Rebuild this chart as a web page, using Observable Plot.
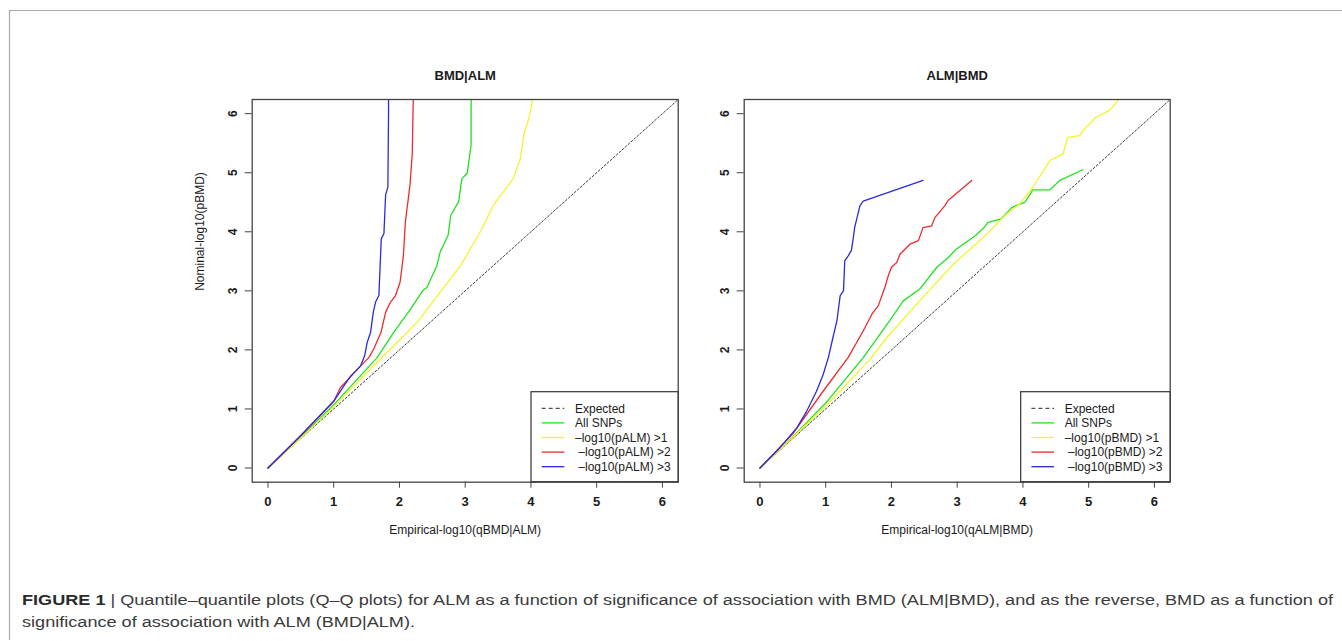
<!DOCTYPE html>
<html>
<head>
<meta charset="utf-8">
<script src="https://cdn.jsdelivr.net/npm/d3@7"></script>
<script src="https://cdn.jsdelivr.net/npm/@observablehq/plot@0.6"></script>
<style>
  html, body { margin: 0; padding: 0; background: #fff; }
  #page { position: relative; width: 1342px; height: 641px; overflow: hidden; font-family: 'Liberation Sans', Arial, sans-serif; }
  .abs { position: absolute; }
  #caption div { position: absolute; left: 22px; white-space: nowrap; font-size: 15.5px; color: #3a3a3a; transform-origin: 0 50%; }
</style>
</head>
<body>
<div id="page">
  <svg class="abs" style="left:0;top:0" width="1342" height="641" id="border"></svg>
  <div class="abs" id="left" style="left:180px;top:50px"></div>
  <div class="abs" id="right" style="left:672px;top:50px"></div>
  <svg class="abs" style="left:0;top:0;pointer-events:none" width="1342" height="641" id="legend"></svg>
  <div id="caption"></div>
</div>
<script>
// ---------- data ----------
const axisTicks = [0, 1, 2, 3, 4, 5, 6];
const expectedX = [0, 7];
const expectedY = [0, 7];

// BMD|ALM panel
const leftAllX = [0, 0.5, 1, 1.66, 1.915, 2.17, 2.35, 2.42, 2.57, 2.62, 2.74, 2.78, 2.90, 2.95, 3.03, 3.09, 3.09];
const leftAllY = [0, 0.52, 1.07, 1.87, 2.30, 2.69, 3.00, 3.06, 3.43, 3.66, 3.94, 4.28, 4.51, 4.90, 4.99, 5.47, 6.3];
const leftP1X = [0, 0.5, 1, 1.71, 1.915, 2.27, 2.62, 2.93, 3.23, 3.43, 3.54, 3.64, 3.73, 3.84, 3.89, 3.97, 4.03, 4.04];
const leftP1Y = [0, 0.51, 1.04, 1.85, 2.07, 2.47, 2.98, 3.43, 4.00, 4.45, 4.62, 4.76, 4.90, 5.24, 5.64, 5.92, 6.26, 6.3];
const leftP2X = [0, 0.5, 1, 1.1, 1.41, 1.535, 1.61, 1.72, 1.79, 1.865, 1.94, 2.01, 2.06, 2.09, 2.16, 2.195, 2.21, 2.21];
const leftP2Y = [0, 0.55, 1.13, 1.36, 1.73, 1.87, 2.02, 2.30, 2.64, 2.81, 2.92, 3.15, 3.60, 4.17, 4.79, 5.33, 6.26, 6.3];
const leftP3X = [0, 0.5, 1, 1.16, 1.26, 1.41, 1.47, 1.51, 1.561, 1.602, 1.637, 1.687, 1.723, 1.764, 1.789, 1.824, 1.834, 1.834];
const leftP3Y = [0, 0.55, 1.13, 1.40, 1.56, 1.73, 1.90, 2.13, 2.30, 2.64, 2.81, 2.92, 3.88, 3.97, 4.62, 4.76, 6.03, 6.3];

// ALM|BMD panel
const rightAllX = [0, 0.5, 1, 1.57, 1.93, 2.18, 2.43, 2.69, 2.86, 2.99, 3.09, 3.27, 3.39, 3.47, 3.67, 3.83, 3.95, 4.03, 4.15, 4.41, 4.56, 4.91];
const rightAllY = [0, 0.53, 1.1, 1.87, 2.43, 2.83, 3.03, 3.40, 3.56, 3.71, 3.79, 3.93, 4.05, 4.16, 4.22, 4.41, 4.47, 4.50, 4.71, 4.71, 4.87, 5.05];
const rightP1X = [0, 0.5, 1, 1.65, 1.93, 2.43, 2.94, 3.45, 3.75, 3.95, 4.15, 4.41, 4.61, 4.68, 4.86, 4.96, 5.11, 5.32, 5.47];
const rightP1Y = [0, 0.52, 1.05, 1.81, 2.21, 2.83, 3.45, 3.96, 4.30, 4.47, 4.75, 5.21, 5.32, 5.60, 5.63, 5.77, 5.94, 6.06, 6.26];
const rightP2X = [0, 0.5, 0.96, 1.34, 1.57, 1.70, 1.80, 1.90, 1.95, 2.00, 2.08, 2.13, 2.28, 2.41, 2.48, 2.61, 2.66, 2.81, 2.86, 3.22];
const rightP2Y = [0, 0.58, 1.30, 1.87, 2.32, 2.60, 2.75, 3.06, 3.25, 3.40, 3.48, 3.62, 3.79, 3.85, 4.07, 4.10, 4.24, 4.44, 4.53, 4.87];
const rightP3X = [0, 0.3, 0.56, 0.71, 0.86, 0.96, 1.04, 1.11, 1.17, 1.22, 1.27, 1.29, 1.34, 1.39, 1.42, 1.44, 1.52, 1.57, 2.48];
const rightP3Y = [0, 0.34, 0.68, 0.96, 1.30, 1.58, 1.87, 2.21, 2.49, 2.92, 3.00, 3.51, 3.59, 3.68, 3.90, 4.07, 4.44, 4.52, 4.87];

const seriesColors = ["#22e022", "#f4f42c", "#ee2a2a", "#2a2ae0"];
const leftLegend = ["Expected", "All SNPs", "\u2013log10(pALM) >1", " \u2013log10(pALM) >2", " \u2013log10(pALM) >3"];
const rightLegend = ["Expected", "All SNPs", "\u2013log10(pBMD) >1", " \u2013log10(pBMD) >2", " \u2013log10(pBMD) >3"];
const titles = ["BMD|ALM", "ALM|BMD"];
const xLabels = ["Empirical-log10(qBMD|ALM)", "Empirical-log10(qALM|BMD)"];
const yLabel = "Nominal-log10(pBMD)";
const captionBold = "FIGURE 1";
const captionLine1 = " | Quantile\u2013quantile plots (Q\u2013Q plots) for ALM as a function of significance of association with BMD (ALM|BMD), and as the reverse, BMD as a function of";
const captionLine2 = "significance of association with ALM (BMD|ALM).";

// ---------- build ----------
const zip = (xs, ys) => xs.map((x, i) => ({x, y: ys[i]}));

function panel(seriesXY, title, xlabel, ylabel) {
  const marks = [
    Plot.line(zip(expectedX, expectedY), {x: "x", y: "y", stroke: "#222", strokeWidth: 0.9, strokeDasharray: "2,2", clip: true}),
    ...seriesXY.map(([xs, ys], i) => Plot.line(zip(xs, ys), {x: "x", y: "y", stroke: seriesColors[i], strokeWidth: 1.3, clip: true})),
    Plot.frame({stroke: "#444", strokeWidth: 1.3}),
    Plot.axisX({ticks: axisTicks, tickSize: 6, tickPadding: 9, fontSize: 13, fontWeight: "bold", label: null, stroke: "#444", tickFormat: d => d}),
    Plot.axisY({ticks: axisTicks, tickSize: 7, tickPadding: 8, tickRotate: -90, fontSize: 12, fontWeight: "bold", label: null, stroke: "#444", tickFormat: d => d}),
    Plot.text([title], {text: d => d, frameAnchor: "top", dy: -29, fontWeight: "bold", fontSize: 13}),
    Plot.text([xlabel], {text: d => d, frameAnchor: "bottom", dy: 52, fontSize: 12})
  ];
  if (ylabel) marks.push(Plot.text([ylabel], {text: d => d, frameAnchor: "left", dx: -52, rotate: -90, fontSize: 12}));
  return Plot.plot({
    width: 520, height: 500,
    marginLeft: 71.7, marginRight: 22.3, marginTop: 49, marginBottom: 68.3,
    x: {domain: [-0.24, 6.24]},
    y: {domain: [-0.24, 6.24]},
    style: {fontFamily: "'Liberation Sans', Arial, sans-serif", background: "transparent", color: "#1a1a1a", overflow: "visible"},
    marks
  });
}

document.getElementById("left").append(panel(
  [[leftAllX, leftAllY], [leftP1X, leftP1Y], [leftP2X, leftP2Y], [leftP3X, leftP3Y]],
  titles[0], xLabels[0], yLabel));
document.getElementById("right").append(panel(
  [[rightAllX, rightAllY], [rightP1X, rightP1Y], [rightP2X, rightP2Y], [rightP3X, rightP3Y]],
  titles[1], xLabels[1], null));

// page border
const border = d3.select("#border");
border.append("path").attr("d", "M9.5,640 V10.5 H1342").attr("fill", "none").attr("stroke", "#a8a8a8").attr("stroke-width", 1.2);

// legends
function legend(x0, x1, labels) {
  const g = d3.select("#legend").append("g");
  const top = 391.7, bottom = 481.7;
  g.append("rect").attr("x", x0).attr("y", top).attr("width", x1 - x0).attr("height", bottom - top)
    .attr("fill", "#fff").attr("stroke", "#333").attr("stroke-width", 1.2);
  labels.forEach((lab, i) => {
    const y = 408.3 + i * 14.6;
    g.append("line").attr("x1", x0 + 10.7).attr("x2", x0 + 33.3).attr("y1", y).attr("y2", y)
      .attr("stroke", i === 0 ? "#222" : seriesColors[i - 1]).attr("stroke-width", i === 0 ? 1 : 1.3)
      .attr("stroke-dasharray", i === 0 ? "4,3" : null);
    g.append("text").attr("x", x0 + 44).attr("y", y).attr("dy", "0.35em")
      .attr("font-size", 12).attr("fill", "#1a1a1a").attr("font-family", "'Liberation Sans', Arial, sans-serif")
      .attr("xml:space", "preserve").style("white-space", "pre").text(lab);
  });
}
legend(531, 678, leftLegend);
legend(1020.7, 1170, rightLegend);

// caption
const cap = document.getElementById("caption");
const l1 = document.createElement("div");
l1.style.top = "591px";
const b = document.createElement("b");
b.textContent = captionBold;
b.style.color = "#2a2a2a";
l1.append(b, document.createTextNode(captionLine1));
const l2 = document.createElement("div");
l2.style.top = "613px";
l2.textContent = captionLine2;
cap.append(l1, l2);
const w = l1.getBoundingClientRect().width;
const s = 1311 / w;
l1.style.transform = `scaleX(${s})`;
l2.style.transform = `scaleX(${s})`;
</script>
</body>
</html>
